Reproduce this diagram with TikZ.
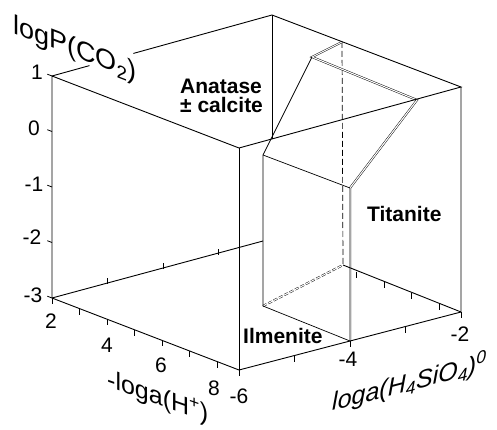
\documentclass[tikz,border=0pt]{standalone}
\usepackage{fontspec}
\setmainfont{Liberation Sans}
\usetikzlibrary{calc}
\begin{document}
\begin{tikzpicture}[x=1pt,y=-1pt,
  edge/.style={line width=0.9pt, black},
  thinedge/.style={line width=0.7pt, black},
  dbl/.style={line width=0.45pt, draw=black, double=white, double distance=1.1pt},
  dsh/.style={line width=0.7pt, dash pattern=on 6pt off 3pt},
  tickmark/.style={line width=0.8pt},
  ticklbl/.style={font=\fontsize{21}{21}\selectfont, inner sep=0pt},
  phase/.style={font=\fontsize{21}{21}\selectfont\bfseries, inner sep=0pt, anchor=base west},
  axlbl/.style={font=\fontsize{26}{26}\selectfont, inner sep=0pt, anchor=base west, transform shape},
]
\useasboundingbox (0,0) rectangle (497,430);

% box corners
\coordinate (LT) at (52,76);
\coordinate (LB) at (52,298);
\coordinate (FT) at (239,148);
\coordinate (FB) at (239,370);
\coordinate (RT) at (461,87);
\coordinate (RB) at (461,312);
\coordinate (BT) at (272,15);
\coordinate (BX) at (272,139);
\coordinate (BE) at (263,241);
% phase boundaries
\coordinate (IT1) at (263,155);
\coordinate (IB1) at (263,306);
\coordinate (IT2) at (350,188);
\coordinate (IB2) at (350,341);
\coordinate (D) at (343,265);
\coordinate (DT) at (342,42);
\coordinate (P1) at (312,57);
\coordinate (P2) at (417,100);

% hidden / dashed
\draw[dsh] (DT) -- (D);
\draw[dbl, dash pattern=on 4pt off 2pt] (IB1) -- (D);

% double phase boundaries
\draw[dbl] (DT) -- (P1) -- (P2) -- (IT2) -- (IB2);

% single phase boundaries
\draw[thinedge] (P1) -- (IT1) -- (IB1) -- (IB2);
\draw[thinedge] (IT1) -- (IT2);

% box edges
\draw[edge] (LT) -- ($(LT)!0.17!(BT)$);
\draw[edge] ($(LT)!0.37!(BT)$) -- (BT) -- (RT) -- (FT) -- (LT) -- (LB) -- (FB) -- (RB) -- (RT);
\draw[edge] (FT) -- (FB);
\draw[edge] (BT) -- (BX);
\draw[edge] (LB) -- (BE);
\draw[edge] (RB) -- (D);

% ticks
\foreach \k in {0,...,4} \draw[tickmark] ($(LB)+(0,-55.5*\k)$) -- ++(-4.7,-1.8);
\foreach \k in {0,...,6} \draw[tickmark] ($(LB)+(27.5*\k,10.59*\k)$) -- ++(0,6);
\foreach \k in {0,...,4} \draw[tickmark] ($(FB)+(55.5*\k,-14.5*\k)$) -- ++(0,6);
\foreach \k in {1,2,3} \draw[tickmark] ($(LB)+(55.5*\k,-14.5*\k)$) -- ++(0,-6);
\foreach \k in {0.8,1.8,2.8,3.8} \draw[tickmark] ($(RB)-(27.5*\k,10.59*\k)$) -- ++(0,6);

% tick labels
\node[ticklbl] (p1) at (37,72) {1};
\node[ticklbl] (p0) at (34,128) {0};
\node[ticklbl] (pm1) at (34,184) {-1};
\node[ticklbl] (pm2) at (32,237) {-2};
\node[ticklbl] (pm3) at (33,295) {-3};
\node[ticklbl] (h2) at (51,321) {2};
\node[ticklbl] (h4) at (107,345) {4};
\node[ticklbl] (h6) at (161,365) {6};
\node[ticklbl] (h8) at (214,388) {8};
\node[ticklbl] (s6) at (239,396) {-6};
\node[ticklbl] (s4) at (348,359) {-4};
\node[ticklbl] (s2) at (460,334) {-2};

% phase labels
\node[phase] (ana) at (180,94) {Anatase};
\node[phase] (cal) at (180,113) {± calcite};
\node[phase] (tit) at (367,222) {Titanite};
\node[phase] (ilm) at (243,343) {Ilmenite};

% axis labels
\begin{scope}[shift={(13,33)}, yslant=-0.385]
  \node[axlbl, font=\fontsize{27}{27}\selectfont] (lblp) at (0,0) {logP(CO\textsubscript{2})};
\end{scope}
\begin{scope}[shift={(107,387)}, yslant=-0.35]
  \node[axlbl, font=\fontsize{25}{25}\selectfont] (lblh) at (0,0) {-loga(H\textsuperscript{+})};
\end{scope}
\begin{scope}[shift={(332,411)}, yslant=0.26]
  \node[axlbl, font=\fontsize{25}{25}\selectfont\itshape] (lbls) at (0,0) {loga(H\textsubscript{4}SiO\textsubscript{4})\textsuperscript{0}};
\end{scope}
\end{tikzpicture}
\end{document}
